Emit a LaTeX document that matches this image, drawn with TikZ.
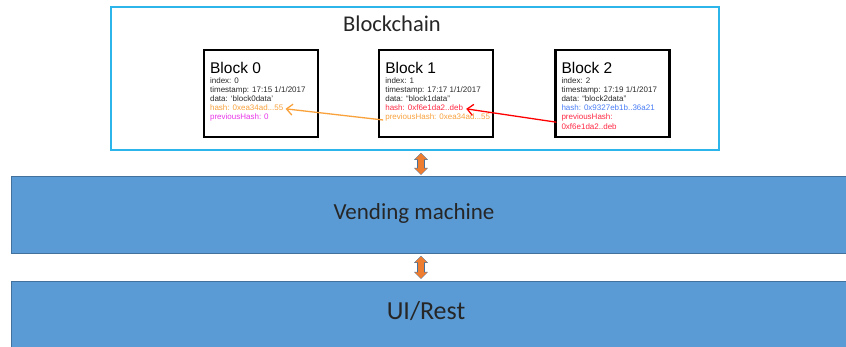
\documentclass[tikz,border=0pt]{standalone}
\usepackage{fontspec}
\setmainfont{Liberation Sans}
\newfontfamily\calibri{Carlito}
\usetikzlibrary{positioning, arrows.meta}

\definecolor{chaincyan}{HTML}{2CB5EA}
\definecolor{bandblue}{HTML}{5B9BD5}
\definecolor{bandedge}{HTML}{41719C}
\definecolor{udorange}{HTML}{ED7D31}
\definecolor{fieldgray}{HTML}{2B2B2B}
\definecolor{hashorange}{HTML}{F7A13D}
\definecolor{hashmagenta}{HTML}{E835E8}
\definecolor{hashred}{HTML}{FF2A45}
\definecolor{hashblue}{HTML}{4A7DF5}
\definecolor{linkorange}{HTML}{F9A23C}
\definecolor{linkred}{HTML}{FF0000}

\begin{document}
\begin{tikzpicture}[x=1pt, y=-1pt,
    chain/.style={draw=chaincyan, line width=1.6pt, minimum width=608pt, minimum height=143pt, inner sep=0pt},
    blockbox/.style={draw, line width=2.2pt, minimum width=114pt, minimum height=87pt, inner sep=0pt},
    blocktitle/.style={font=\fontsize{15.5}{18}\selectfont, inner sep=0pt, anchor=north west},
    field/.style={font=\fontsize{8}{9}\selectfont, inner sep=0pt, text height=6pt, text depth=2pt, text=fieldgray},
    band/.style={fill=bandblue, draw=bandedge, line width=0.8pt, minimum width=870pt, inner sep=0pt, anchor=north west},
    bandtext/.style={font=\calibri\fontsize{23}{26}\selectfont, text=black!85},
    updownedge/.style={draw=bandedge, line width=7.2pt, {Triangle[length=7pt, width=13.4pt]}-{Triangle[length=7pt, width=13.4pt]}},
    updownfill/.style={draw=udorange, line width=6pt, {Triangle[length=5.8pt, width=11.8pt]}-{Triangle[length=5.8pt, width=11.8pt]}, shorten >=0.7pt, shorten <=0.7pt},
    link/.style={-{Straight Barb[length=6pt, width=11pt]}, line width=1.3pt}
  ]
  \useasboundingbox (0,0) rectangle (846,347);

  % layers below the chain
  \node[band, minimum height=77pt] (vend) at (11,176) {};
  \node[bandtext] (vendlabel) at (414,213) {Vending machine};
  \node[band, minimum height=80pt] (ui) at (11,281) {};
  \node[bandtext, font=\calibri\fontsize{26}{29}\selectfont] (uilabel) at (426,311) {UI/Rest};

  % the chain
  \node[chain] (chain) at (415,78.5) {};
  \node[font=\calibri\fontsize{22.5}{26}\selectfont, text=black!85] (chaintitle) at (392,24) {Blockchain};

  \node[blockbox]                 (b0) at (261,93.5) {};
  \node[blockbox, right=59pt of b0] (b1) {};
  \node[blockbox, right=60pt of b1] (b2) {};

  % block 0
  \node[blocktitle] (t0) at ([shift={(7pt,-13pt)}]b0.north west) {Block 0};
  \node[field, below=3.5pt of t0.south west, anchor=north west]  (i0) {index: 0};
  \node[field, below=0.75pt of i0.south west, anchor=north west] (s0) {timestamp: 17:15 1/1/2017};
  \node[field, below=0.75pt of s0.south west, anchor=north west] (d0) {data: ‘block0data’};
  \node[field, below=0.75pt of d0.south west, anchor=north west, text=hashorange]  (h0) {hash: 0xea34ad...55};
  \node[field, below=0.75pt of h0.south west, anchor=north west, text=hashmagenta] (p0) {previousHash: 0};

  % block 1
  \node[blocktitle] (t1) at ([shift={(7pt,-13pt)}]b1.north west) {Block 1};
  \node[field, below=3.5pt of t1.south west, anchor=north west]  (i1) {index: 1};
  \node[field, below=0.75pt of i1.south west, anchor=north west] (s1) {timestamp: 17:17 1/1/2017};
  \node[field, below=0.75pt of s1.south west, anchor=north west] (d1) {data: “block1data”};
  \node[field, below=0.75pt of d1.south west, anchor=north west, text=hashred]    (h1) {hash: 0xf6e1da2..deb};
  \node[field, below=0.75pt of h1.south west, anchor=north west, text=hashorange] (p1) {previousHash: 0xea34ad...55};

  % block 2
  \node[blocktitle] (t2) at ([shift={(7pt,-13pt)}]b2.north west) {Block 2};
  \node[field, below=3.5pt of t2.south west, anchor=north west]  (i2) {index: 2};
  \node[field, below=0.75pt of i2.south west, anchor=north west] (s2) {timestamp: 17:19 1/1/2017};
  \node[field, below=0.75pt of s2.south west, anchor=north west] (d2) {data: “block2data”};
  \node[field, below=0.75pt of d2.south west, anchor=north west, text=hashblue] (h2) {hash: 0x9327eb1b..36a21};
  \node[field, below=0.75pt of h2.south west, anchor=north west, text=hashred]  (p2) {previousHash:};
  \node[field, below=0.75pt of p2.south west, anchor=north west, text=hashred]  (p2b) {0xf6e1da2..deb};

  % hash links
  \draw[link, draw=linkorange] ([shift={(-2pt,-2pt)}]p1.west) -- ([xshift=2pt]h0.east);
  \draw[link, draw=linkred] ([xshift=-5pt]p2.south west) -- ([xshift=3pt]h1.east);

  % up/down arrows between layers
  \coordinate (udtop) at ([shift={(6pt,-2pt)}]chain.south);
  \coordinate (udmid) at ([yshift=-2pt]udtop |- vend.south);
  \draw[updownedge] (udtop) -- ([yshift=1pt]udtop |- vend.north);
  \draw[updownfill] (udtop) -- ([yshift=1pt]udtop |- vend.north);
  \draw[updownedge] (udmid) -- ([yshift=2pt]udtop |- ui.north);
  \draw[updownfill] (udmid) -- ([yshift=2pt]udtop |- ui.north);
\end{tikzpicture}
\end{document}
